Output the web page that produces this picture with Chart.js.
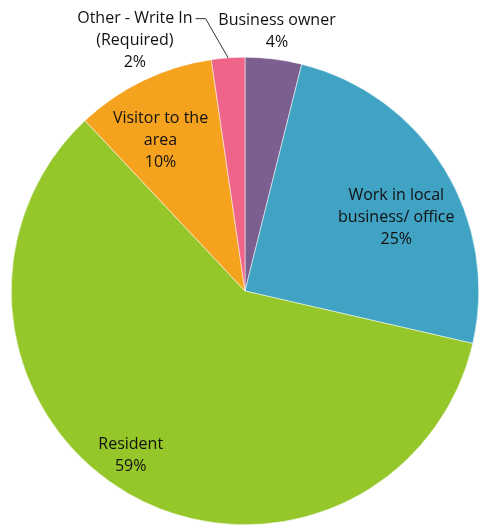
<!DOCTYPE html>
<html><head><meta charset="utf-8">
<script src="https://cdn.jsdelivr.net/npm/chart.js@4"></script>
<style>html,body{margin:0;padding:0;background:#fff;overflow:hidden}#wrap{width:479px;height:525px}</style>
</head><body><div id="wrap"><canvas id="c" width="479" height="525"></canvas></div>
<script>
const categories = ["Business owner", "Work in local business/ office", "Resident", "Visitor to the area", "Other - Write In (Required)"];
const labelLines = [["Business owner"], ["Work in local", "business/ office"], ["Resident"], ["Visitor to the", "area"], ["Other - Write In", "(Required)"]];
const values = [3.9, 24.7, 59.4, 9.7, 2.3];
const colors = ["#7B5F8F", "#40A3C3", "#96C72A", "#F5A31F", "#EF6489"];

// label placement relative to each arc: radius factor and angular shift (degrees)
const labelPlace = [
  {f: 1.12, shift: 0},
  {f: 0.72, shift: 5.5},
  {f: 0.855, shift: 5},
  {f: 0.74, shift: -3.5},
  {f: 1.17, shift: -19.6, leader: true}
];

const labelPlugin = {
  id: 'pieLabels',
  afterDatasetsDraw(chart) {
    const ctx = chart.ctx;
    const meta = chart.getDatasetMeta(0);
    const total = values.reduce((a, b) => a + b, 0);
    ctx.save();
    ctx.font = '16px "Open Sans", sans-serif';
    ctx.fillStyle = '#111';
    ctx.textAlign = 'center';
    ctx.textBaseline = 'middle';
    meta.data.forEach((arc, i) => {
      const p = arc.getProps(['x', 'y', 'startAngle', 'endAngle', 'outerRadius'], true);
      const mid = (p.startAngle + p.endAngle) / 2;
      const pl = labelPlace[i];
      const a = mid + pl.shift * Math.PI / 180;
      const cx = p.x + Math.cos(a) * p.outerRadius * pl.f;
      const cy = p.y + Math.sin(a) * p.outerRadius * pl.f;
      const lines = labelLines[i].concat([Math.round(values[i] / total * 100) + '%']);
      const lh = 22;
      const y0 = cy - (lines.length - 1) * lh / 2;
      lines.forEach((t, k) => ctx.fillText(t, cx, y0 + k * lh));
      if (pl.leader) {
        const w = ctx.measureText(lines[0]).width;
        const sx = cx + w / 2 + 3, sy = y0;
        const ex = p.x + Math.cos(mid) * p.outerRadius;
        const ey = p.y + Math.sin(mid) * p.outerRadius;
        ctx.strokeStyle = '#333';
        ctx.lineWidth = 1;
        ctx.beginPath();
        ctx.moveTo(sx, sy);
        ctx.lineTo(sx + 10, sy);
        ctx.lineTo(ex, ey);
        ctx.stroke();
      }
    });
    ctx.restore();
  }
};

new Chart(document.getElementById('c'), {
  type: 'pie',
  data: {
    labels: categories,
    datasets: [{
      data: values,
      backgroundColor: colors,
      borderColor: '#ffffff',
      borderWidth: 0.5
    }]
  },
  options: {
    responsive: false,
    animation: false,
    layout: {padding: {left: 11, right: 0, top: 57, bottom: 0}},
    plugins: {legend: {display: false}, tooltip: {enabled: false}}
  },
  plugins: [labelPlugin]
});
</script>
</body></html>
